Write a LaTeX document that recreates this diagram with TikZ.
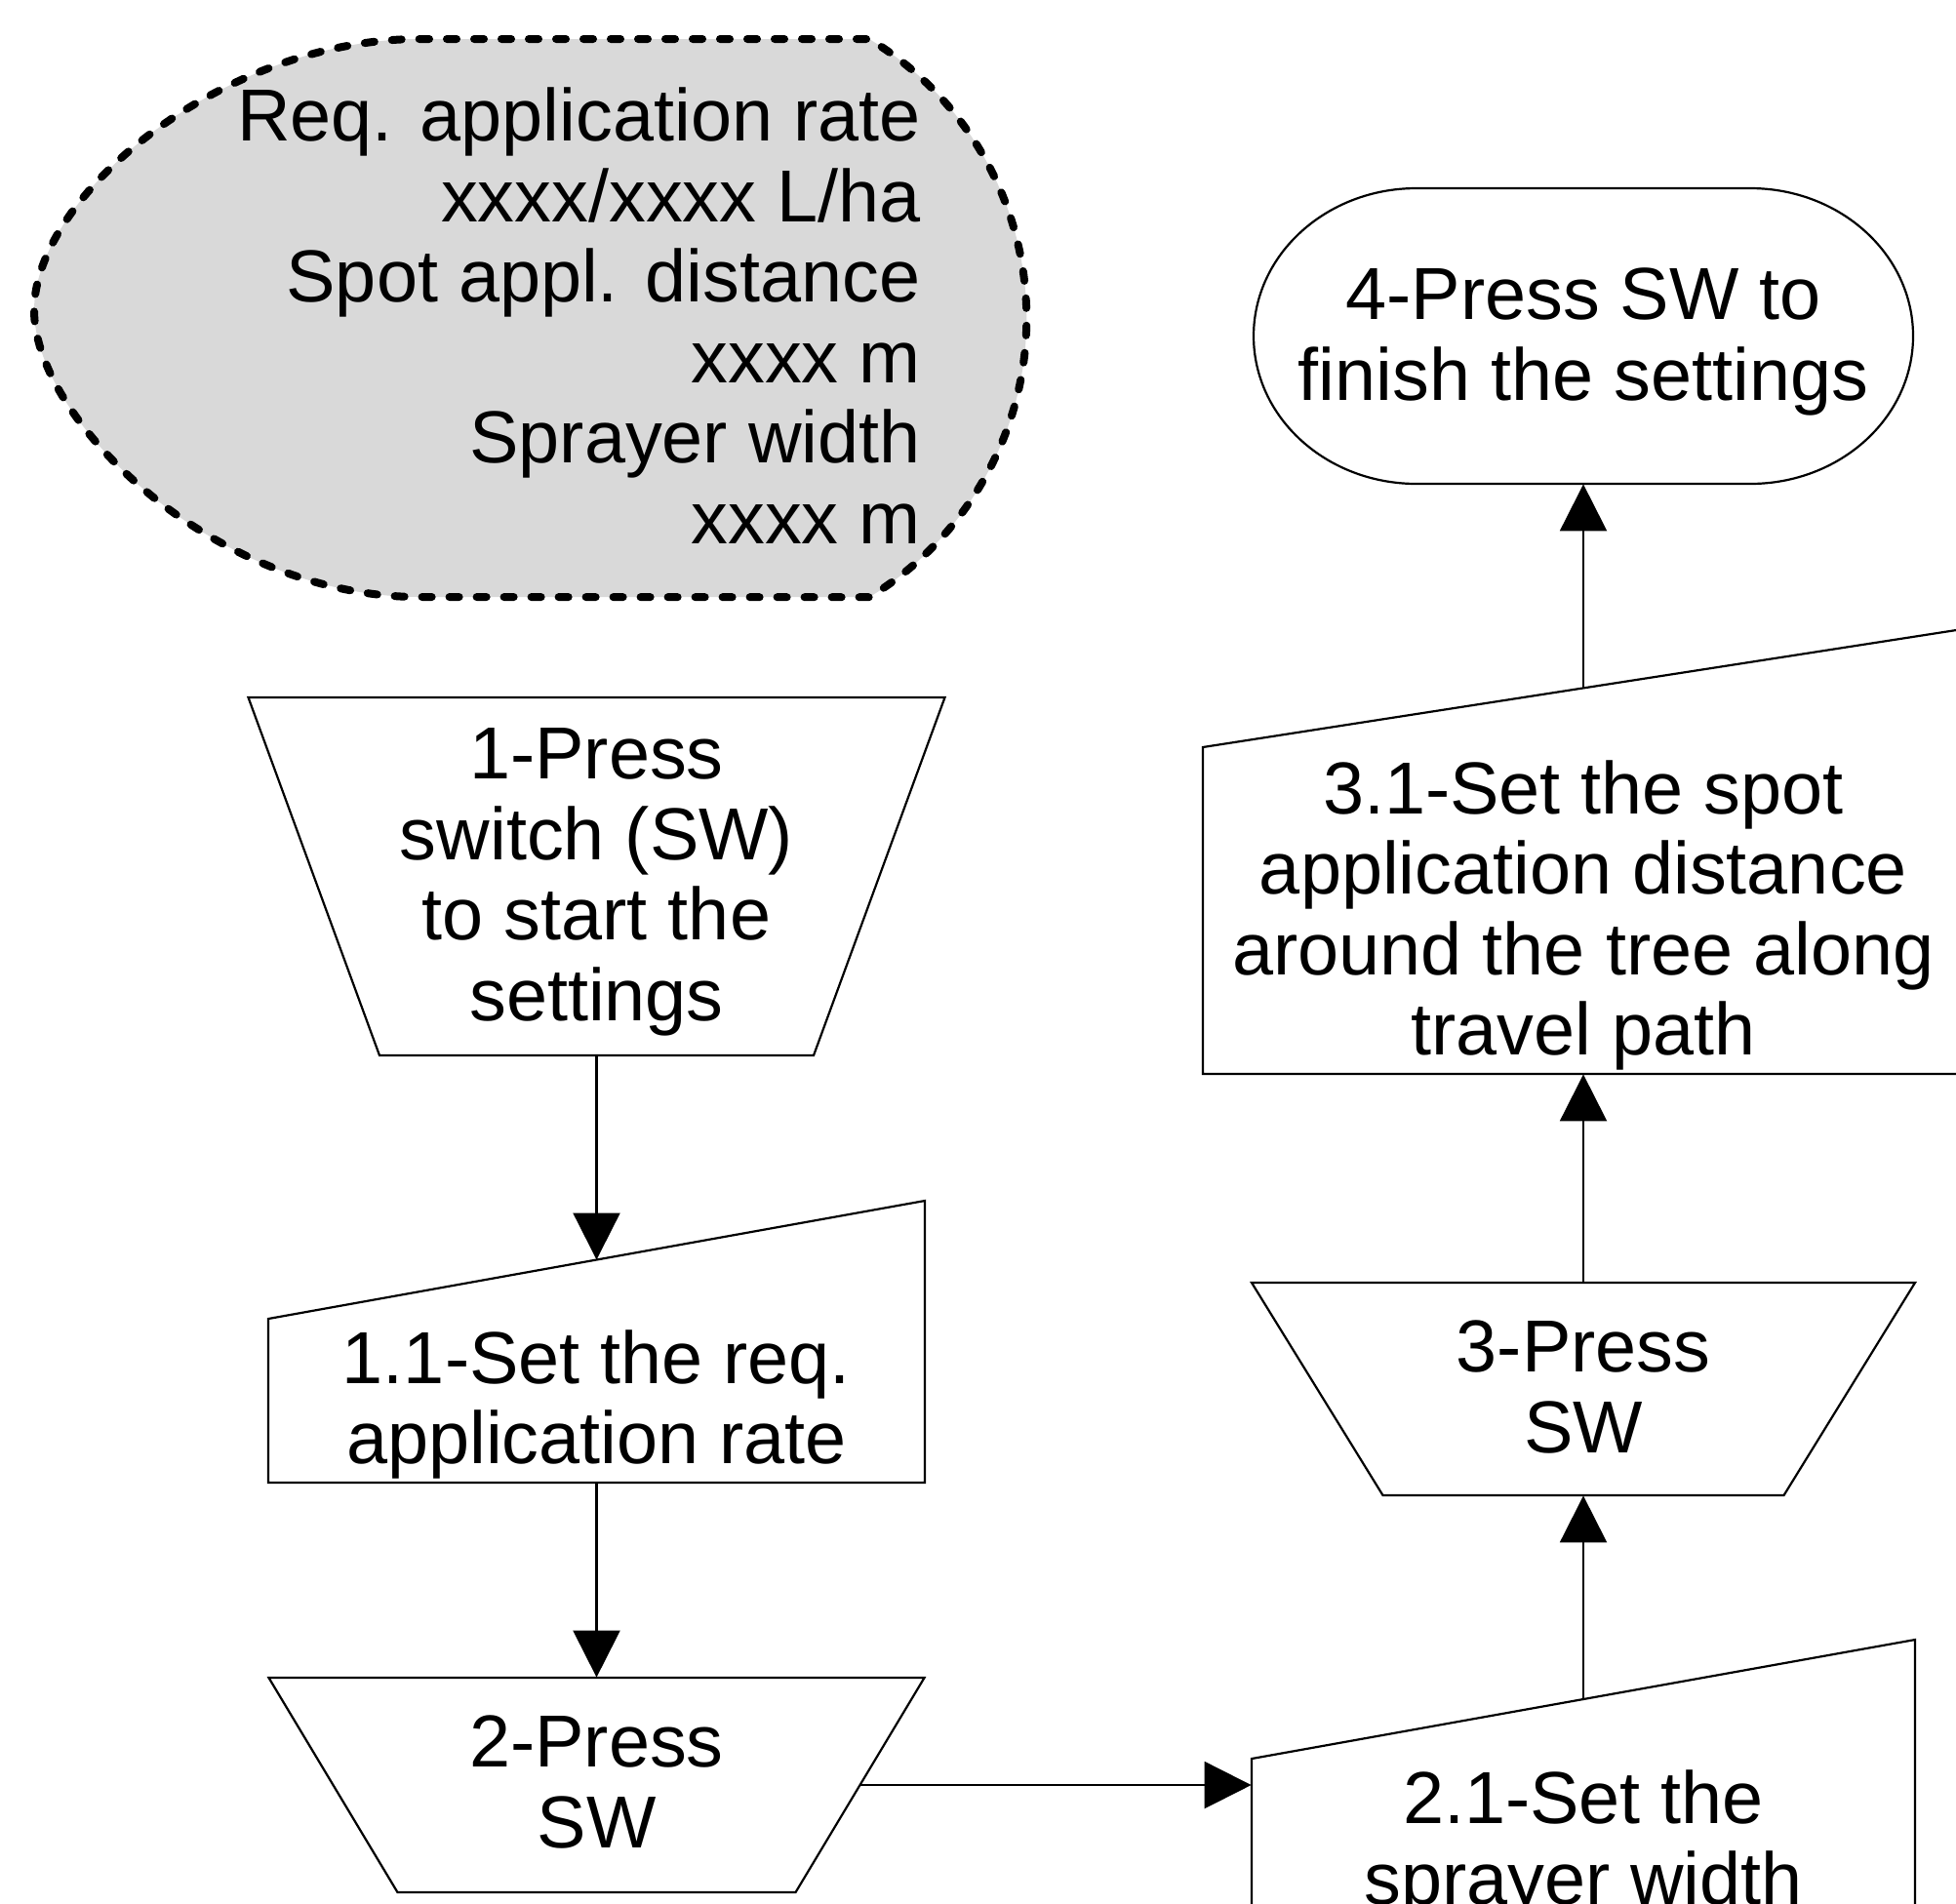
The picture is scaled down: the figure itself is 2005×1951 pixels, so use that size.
\documentclass[tikz,border=0pt]{standalone}
\usepackage{fontspec}
\setmainfont{Liberation Sans}
\usetikzlibrary{arrows.meta,calc}
\definecolor{dispgray}{RGB}{217,217,217}
\tikzset{
  lbl/.style={align=center, inner sep=0pt, draw=none, font=\fontsize{37.8}{41.25}\selectfont},
  anc/.style={inner sep=0pt, draw=none},
  outl/.style={draw=black, line width=1.1pt, line join=miter},
  arr/.style={draw=black, line width=1.1pt, -{Triangle[length=24pt,width=24pt]}},
  dispbox/.style={draw=black, fill=dispgray, line width=4pt, dash pattern=on 5pt off 9pt, line cap=round},
}
\begin{document}
\begin{tikzpicture}[x=0.5pt,y=-0.5pt]
\useasboundingbox (0,0) rectangle (2005,1951);
\clip (0,0) rectangle (2005,1951);

% display shape
\path[dispbox] (430,40) -- (891,40) arc[start angle=-58.8, end angle=58.8, radius=334.5]
  -- (430,612) .. controls (220,612) and (35,430) .. (35,318)
  .. controls (35,200) and (230,40) .. (430,40) -- cycle;
\node[lbl, align=right, anchor=east] (disp) at (944,323.5)
  {Req. application rate\\xxxx/xxxx L/ha\\Spot appl. distance\\xxxx m\\Sprayer width\\xxxx m};

% terminal
\path[outl] (1452,193) -- (1794,193) arc[start angle=-90, end angle=90, x radius=167, y radius=151.5]
  -- (1452,496) arc[start angle=90, end angle=270, x radius=167, y radius=151.5] -- cycle;
\node[anc, minimum width=337.5pt, minimum height=151.5pt] (term) at (1623,344.5) {};
\node[lbl] (term-t) at (1623,350.5) {4-Press SW to\\finish the settings};

% 1-Press
\path[outl] (254.5,715) -- (968.5,715) -- (834,1082) -- (389,1082) -- cycle;
\node[anc, minimum width=289.75pt, minimum height=183.5pt] (p1) at (611.5,898.5) {};
\node[lbl] (p1-t) at (611.5,904.5) {1-Press\\switch (SW)\\to start the\\settings};

% 1.1 manual input
\path[outl] (275,1520) -- (275,1352) -- (948,1231) -- (948,1520) -- cycle;
\node[anc, minimum width=336.5pt, minimum height=84pt] (i11) at (611.5,1436) {};
\node[lbl] (i11-t) at (611.5,1440) {1.1-Set the req.\\application rate};
\coordinate (i11t) at (611.5,1291.5);

% 2-Press
\path[outl] (275.5,1720) -- (947.5,1720) -- (815.5,1940) -- (407.5,1940) -- cycle;
\node[anc, minimum width=270pt, minimum height=110pt] (p2) at (611.5,1830) {};
\node[lbl] (p2-t) at (611.5,1827) {2-Press\\SW};

% 2.1 manual input
\path[outl] (1283,1995) -- (1283,1803) -- (1963,1681) -- (1963,1995);
\node[anc, minimum width=340pt, minimum height=81.5pt] (i21) at (1623,1884.5) {};
\node[lbl] (i21-t) at (1623,1891.5) {2.1-Set the\\sprayer width};
\coordinate (i21t) at (1623,1742);

% 3-Press
\path[outl] (1283,1315) -- (1963,1315) -- (1828.5,1533) -- (1417.5,1533) -- cycle;
\node[anc, minimum width=272.75pt, minimum height=109pt] (p3) at (1623,1424) {};
\node[lbl] (p3-t) at (1623,1422) {3-Press\\SW};

% 3.1 manual input
\path[outl] (1233,1101) -- (1233,766) -- (2013,644.8) -- (2013,1101) -- cycle;
\node[anc, minimum width=390pt, minimum height=167.5pt] (i31) at (1623,933.5) {};
\node[lbl] (i31-t) at (1623,938.5) {3.1-Set the spot\\application distance\\around the tree along\\travel path};
\coordinate (i31t) at (1623,705.4);

% connectors
\draw[arr] (p1.south) -- (i11t);
\draw[arr] (i11.south) -- (p2.north);
\draw[arr] (p2.east) -- (p2.east -| i21.west);
\draw[arr] (i21t) -- (p3.south);
\draw[arr] (p3.north) -- (i31.south);
\draw[arr] (i31t) -- (term.south);
\end{tikzpicture}
\end{document}
